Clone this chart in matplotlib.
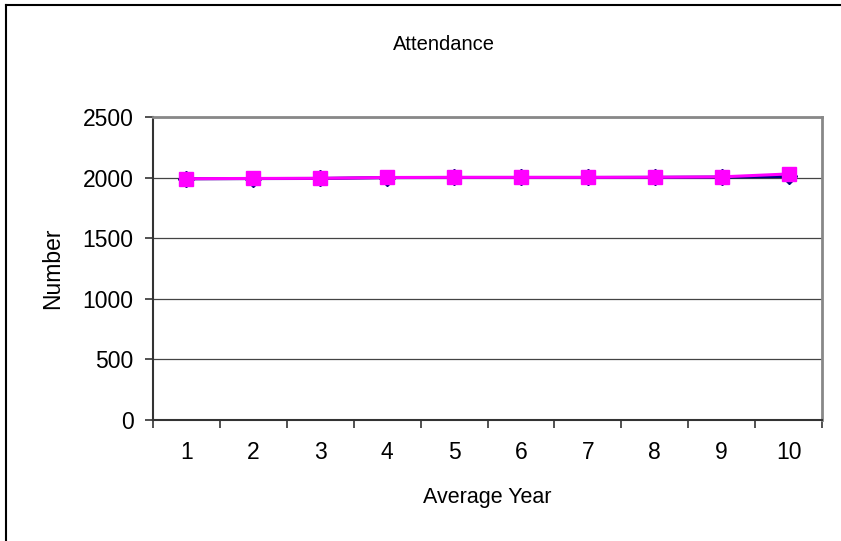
import matplotlib.pyplot as plt
from matplotlib.lines import Line2D
import numpy as np

plt.rcParams['font.family'] = ['Liberation Sans', 'DejaVu Sans']

years = [1, 2, 3, 4, 5, 6, 7, 8, 9, 10]
series_a = [1990, 1992, 1993, 2000, 2001, 2001, 2001, 2002, 2004, 2010]
series_b = [1991, 1993, 1994, 2001, 2002, 2002, 2002, 2003, 2006, 2030]
yticks = [0, 500, 1000, 1500, 2000, 2500]

W, H = 841, 541
fig = plt.figure(figsize=(W / 100, H / 100), dpi=100)
ax = fig.add_axes([153 / W, 1 - 420 / H, (822 - 153) / W, (420 - 117) / H])

# outer chart border (only left and top edges show in the reference)
fig.lines.append(Line2D([6 / W, 6 / W], [0, 1 - 5 / H], transform=fig.transFigure,
                        color='black', linewidth=1.5))
fig.lines.append(Line2D([6 / W, 1], [1 - 5 / H, 1 - 5 / H], transform=fig.transFigure,
                        color='black', linewidth=1.5))

x = np.arange(len(years))
ax.plot(x, series_a, color='#000080', marker='D', markersize=8, linewidth=2.2, zorder=3)
ax.plot(x, series_b, color='#FF00FF', marker='s', markersize=9.5, linewidth=2.2, zorder=4)

ax.set_xlim(-0.5, len(years) - 0.5)
ax.set_ylim(0, 2500)
ax.set_yticks(yticks)
ax.set_xticks(x)
ax.set_xticklabels([str(v) for v in years])
ax.set_xticks(np.arange(len(years) + 1) - 0.5, minor=True)
ax.tick_params(axis='x', which='major', length=0, pad=15, labelsize=16.5)
ax.tick_params(axis='x', which='minor', length=6, width=1.2, color='#333333')
ax.tick_params(axis='y', length=6, width=1.2, color='#333333', labelsize=16.5, pad=8)

ax.grid(axis='y', color='#444444', linewidth=0.9)
ax.set_axisbelow(True)
for side in ['top', 'right']:
    ax.spines[side].set_color('#888888')
    ax.spines[side].set_linewidth(2)
for side in ['left', 'bottom']:
    ax.spines[side].set_color('#333333')
    ax.spines[side].set_linewidth(1.5)

fig.text(444 / W, 1 - 45 / H, 'Attendance', fontsize=14.5, ha='center', va='center')
ax.set_xlabel('Average Year', fontsize=15.5, va='center')
ax.xaxis.set_label_coords(0.5, -77 / 303)
ax.set_ylabel('Number', fontsize=16.5, va='center')
ax.yaxis.set_label_coords(-100 / 669, 0.5)

fig.savefig('out.png', dpi=100)
